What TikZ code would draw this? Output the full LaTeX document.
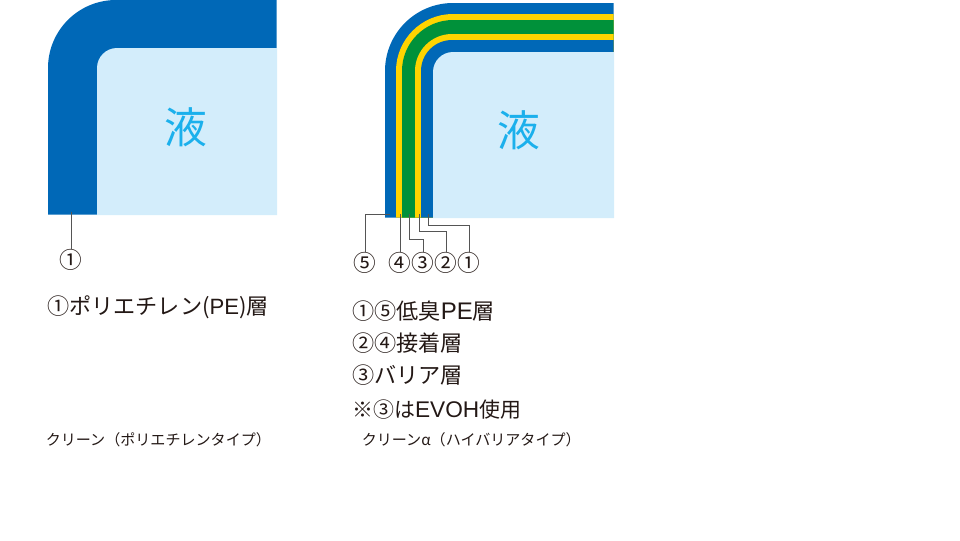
\documentclass[tikz,border=0pt]{standalone}
\usepackage{fontspec}
\newfontfamily\jp{Noto Sans CJK JP}
\newfontfamily\lat{Liberation Sans}
\definecolor{layerblue}{HTML}{0068B7}
\definecolor{layeryellow}{HTML}{FFD400}
\definecolor{layergreen}{HTML}{00913A}
\definecolor{liquid}{HTML}{D3EDFB}
\definecolor{liquidtext}{HTML}{1BB0EC}
\definecolor{ink}{HTML}{231815}
\definecolor{pin}{HTML}{555555}
\newcommand{\layer}[6]{\fill[#6] (#1,#4) -- (#1,#2+#5) arc[start angle=180,end angle=270,radius=#5] -- (#3,#2) -- (#3,#4) -- cycle;}
\newcommand{\bigLat}[2]{{\lat\fontsize{#1}{20}\selectfont #2}}
\tikzset{x=0.75pt,y=-0.75pt,
 liq/.style={font=\jp\fontsize{32}{36}\selectfont,text=liquidtext,inner sep=0pt},
 numlabel/.style={font=\jp\fontsize{17}{18}\selectfont,text=ink,inner sep=0pt},
 heading/.style={font=\jp\fontsize{16.6}{20}\selectfont,text=ink,inner sep=0pt,anchor=west},
 caption/.style={font=\jp\fontsize{11.3}{13}\selectfont,text=ink,inner sep=0pt,anchor=west},
 pinline/.style={draw=pin,line width=0.6pt}}
\begin{document}
\begin{tikzpicture}
\useasboundingbox (0,0) rectangle (960,540);
% left cross-section
\layer{48}{0}{276.6}{214.6}{68}{layerblue}
\layer{97}{48}{277}{215}{20}{liquid}
\node[liq] (liqA) at (186,127) {液};
% right cross-section
\layer{385}{3}{613.6}{217.6}{68}{layerblue}
\layer{396}{14}{613.6}{217.6}{57}{layeryellow}
\layer{402}{20}{613.6}{217.6}{51}{layergreen}
\layer{415}{34}{613.6}{217.6}{37}{layeryellow}
\layer{421}{40}{613.6}{217.6}{31}{layerblue}
\layer{433}{52}{614}{218}{20}{liquid}
\node[liq] (liqB) at (519,130) {液};
% number labels
\node[numlabel] (a1) at (71,260) {①};
\node[numlabel] (b5) at (365,263) {⑤};
\node[numlabel] (b4) at (400,263) {④};
\node[numlabel] (b3) at (423,263) {③};
\node[numlabel] (b2) at (446,263) {②};
\node[numlabel] (b1) at (469,263) {①};
% pin anchors
\coordinate (pa1) at (71,212);
\coordinate (p5) at (390,214);
\coordinate (p4) at (400,214);
\coordinate (p3) at (409,214);
\coordinate (p2) at (419,214);
\coordinate (p1) at (428,214);
\draw[pinline] (pa1) -- (a1.north);
\draw[pinline] (p5) -| (b5.north);
\draw[pinline] (p4) -- (b4.north);
\draw[pinline] (p3) |- (423,239) -- (b3.north);
\draw[pinline] (p2) |- (446,231) -- (b2.north);
\draw[pinline] (p1) |- (469,225) -- (b1.north);
% headings
\node[heading] (h0) at (47,307) {①ポリエチレン({\lat PE})層};
\node[heading] (h1) at (352,311) {①⑤低臭\bigLat{18}{PE}層};
\node[heading] (h2) at (352,343) {②④接着層};
\node[heading] (h3) at (352,375) {③バリア層};
\node[heading,font=\jp\fontsize{15.7}{20}\selectfont] (h4) at (352,410) {※③は\bigLat{17}{EVOH}使用};
% captions
\node[caption] (c0) at (45.5,440) {クリーン（ポリエチレンタイプ）};
\node[caption] (c1) at (361.5,440) {クリーンα（ハイバリアタイプ）};
\end{tikzpicture}
\end{document}
